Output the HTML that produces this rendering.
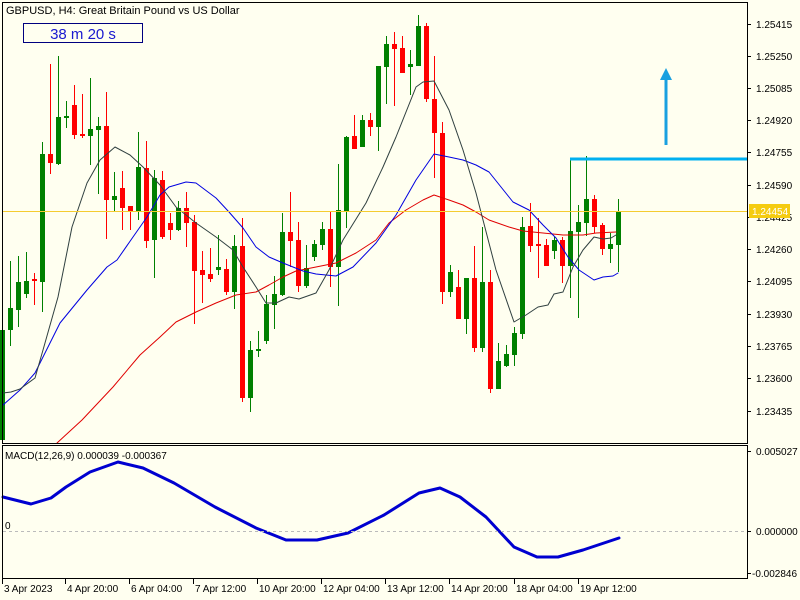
<!DOCTYPE html>
<html><head><meta charset="utf-8"><style>
html,body{margin:0;padding:0;background:#fffff0;}
svg{display:block;font-family:"Liberation Sans",sans-serif;}
</style></head><body>
<svg id="c" width="800" height="600" xmlns="http://www.w3.org/2000/svg">
<rect width="800" height="600" fill="#fffff0"/>
<g id="g"></g>
<rect x="2.5" y="2.5" width="745" height="441" fill="none" stroke="#000"/>
<rect x="2.5" y="445.5" width="745" height="133" fill="none" stroke="#000"/>
<line x1="3" y1="211.5" x2="747" y2="211.5" stroke="#f5cc30" stroke-width="1"/>
<line x1="3" y1="531.5" x2="747" y2="531.5" stroke="#bbb" stroke-dasharray="3,3"/>
<rect x="570" y="157.5" width="177" height="3" fill="#00b0f0"/>
<line x1="666" y1="145" x2="666" y2="78" stroke="#1aa0e0" stroke-width="3"/>
<polygon points="660,80 666,68 672,80" fill="#1aa0e0"/>
<rect x="23.5" y="23.5" width="119" height="19" fill="none" stroke="#000080"/>
<text x="83" y="39" text-anchor="middle" font-size="15" fill="#1a1ad0">38 m 20 s</text>
<text x="6" y="14" font-size="11" fill="#000">GBPUSD, H4:  Great Britain Pound vs US Dollar</text>
<text x="5" y="459" font-size="10" fill="#000">MACD(12,26,9) 0.000039 -0.000367</text>
<text x="5" y="529" font-size="10" fill="#000">0</text>
<g id="ax" font-size="10" fill="#000"></g>
<rect x="749" y="204" width="41" height="14" fill="#f5cc10"/>
<text x="752" y="215" font-size="10" fill="#fff">1.24454</text>
</svg>
<script>
var g=document.getElementById('g'),ax=document.getElementById('ax'),NS='http://www.w3.org/2000/svg';
function el(t,a,p){var e=document.createElementNS(NS,t);for(var k in a)e.setAttribute(k,a[k]);(p||g).appendChild(e);return e;}
var C=[[440,330,330,443],[330,308,261,346],[310,282,256,327],[294,281,252,298],[279,281,273,305],[282,154,142,312],[154,163,64,174],[164,117,56,165],[118,116,101,128],[105,135,85,139],
[134,136,94,138],[136,129,78,165],[130,126,117,194],[126,200,92,239],[200,196,172,211],[188,208,171,230],[206,212,206,230],[212,167,132,220],[168,241,141,248],[240,178,170,278],
[180,237,171,239],[223,230,213,240],[230,208,201,231],[208,223,192,247],[222,271,215,324],[270,275,251,303],[274,279,248,282],[269,268,235,275],[269,292,259,295],[292,246,235,309],
[246,398,218,402],[398,350,341,412],[351,349,331,357],[341,304,295,344],[305,294,276,329],[295,232,213,296],[232,241,192,267],[240,286,222,292],[286,268,245,288],[257,244,240,261],
[245,229,222,250],[229,267,212,287],[267,210,164,306],[212,137,136,228],[136,149,115,149],[147,120,115,147],[120,127,113,136],[127,66,66,151],[67,44,36,104],[44,49,32,106],
[48,73,36,73],[66,65,50,95],[66,26,15,66],[26,99,23,102],[99,133,56,178],[133,292,122,304],[292,272,265,297],[287,319,270,319],[319,278,278,334],[278,348,246,352],
[348,282,227,352],[282,389,270,393],[389,361,343,389],[366,354,345,367],[355,333,327,366],[334,227,217,339],[226,246,203,252],[244,246,218,278],[245,266,239,266],[251,240,237,259],
[240,266,237,283],[266,231,159,298],[232,222,205,318],[223,199,156,236],[199,227,195,233],[225,249,223,255],[249,244,233,263],[245,211,199,272]];
C.forEach(function(d,k){var x=2+8*k,o=d[0],c=d[1],up=c<o,col=up?'#008000':'#ff0000';
el('line',{x1:x+.5,x2:x+.5,y1:d[2],y2:d[3],stroke:col});
var t=Math.min(o,c),b=Math.max(o,c);if(b-t<2){t-=1;b+=1;}
el('rect',{x:x-2,y:t,width:5,height:b-t,fill:col});});
function pl(p,col,w,par){el('polyline',{points:p,fill:'none',stroke:col,'stroke-width':w,'stroke-linejoin':'round','stroke-linecap':'round'},par);}
pl('57,443 82,420 113,387 140,355 160,337 176,322 196,312 216,303 236,295 256,292 269,285 283,277 296,271 316,267 336,263 356,253 376,240 389,223 406,210 423,200 434,195 449,200 463,205 476,212 489,220 509,227 523,231 543,233 563,235 583,235 596,233 616,232','#e00000',1);
pl('3,405 20,390 35,373 60,323 87,290 107,267 117,260 133,237 147,217 160,195 169,187 186,182 196,183 216,198 229,212 243,228 256,247 269,257 283,263 303,271 316,274 336,276 353,267 376,243 396,215 416,180 434,154 449,157 463,160 476,165 489,172 513,202 529,210 543,225 556,238 568,257 579,270 594,280 603,277 613,276 618,273','#0000e0',1);
pl('3,393 11,392 20,389 35,378 43,350 58,297 72,227 87,183 100,160 115,147 130,155 143,167 160,185 176,207 196,223 216,237 233,250 243,267 256,287 266,303 276,303 289,297 299,299 316,293 329,270 343,240 366,203 383,167 396,137 416,87 423,82 434,81 449,110 463,150 476,193 496,270 514,322 526,315 538,307 548,305 554,294 563,292 573,267 583,250 594,237 603,239 611,238 616,235','#304040',1);
pl('3,497 31,504 51,498 66,487 90,472 118,462 143,468 174,483 215,507 256,528 286,540 317,540 348,533 384,515 419,493 440,488 460,497 486,517 514,547 537,557 558,557 583,550 619,538','#0000d0',3);
var P=[['1.25415',24],['1.25250',56],['1.25085',88],['1.24920',120],['1.24755',152],['1.24590',185],['1.24425',217],['1.24260',249],['1.24095',281],['1.23930',314],['1.23765',346],['1.23600',378],['1.23435',411]];
P.forEach(function(p){el('line',{x1:747,x2:751,y1:p[1]+.5,y2:p[1]+.5,stroke:'#000'},ax);var t=el('text',{x:756,y:p[1]+4},ax);t.textContent=p[0];});
[['0.005027',451],['0.000000',531],['-0.002846',573]].forEach(function(p){el('line',{x1:747,x2:751,y1:p[1]+.5,y2:p[1]+.5,stroke:'#000'},ax);var t=el('text',{x:p[0][0]=='-'?752:756,y:p[1]+4},ax);t.textContent=p[0];});
var D=[['3 Apr 2023',2],['4 Apr 20:00',65],['6 Apr 04:00',129],['7 Apr 12:00',193],['10 Apr 20:00',257],['12 Apr 04:00',321],['13 Apr 12:00',385],['14 Apr 20:00',449],['18 Apr 04:00',514],['19 Apr 12:00',578]];
D.forEach(function(d){el('line',{x1:d[1]+.5,x2:d[1]+.5,y1:579,y2:584,stroke:'#000'},ax);var t=el('text',{x:d[1]+2,y:592},ax);t.textContent=d[0];});
</script>
</body></html>
